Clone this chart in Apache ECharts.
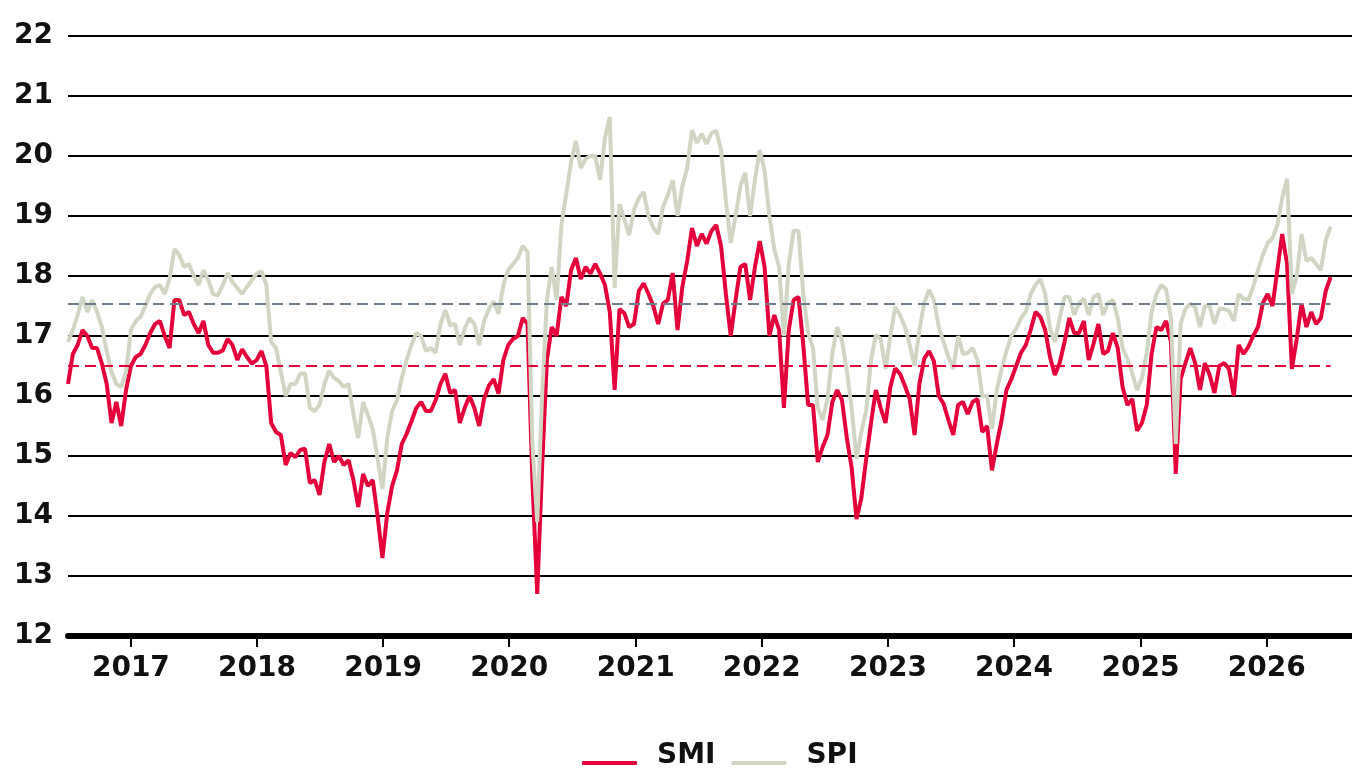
<!DOCTYPE html>
<html>
<head>
<meta charset="utf-8">
<title>SMI / SPI</title>
<script src="https://cdn.jsdelivr.net/npm/echarts@6/dist/echarts.min.js"></script>
<style>
  html, body { margin: 0; padding: 0; background: #fff; }
  #chart { width: 1352px; height: 768px; }
</style>
</head>
<body>
<div id="chart"></div>
<script>
// readings every 14 days, starting 2016-07-03
var startDate = "2016-07-03";
var stepDays = 14;

var smiValues = [
  16.2, 16.7, 16.85, 17.1, 17.0, 16.8, 16.8, 16.54, 16.2, 15.55,
  15.9, 15.5, 16.1, 16.5, 16.65, 16.7, 16.85, 17.05, 17.2, 17.25,
  17.0, 16.8, 17.6, 17.6, 17.35, 17.4, 17.2, 17.05, 17.25, 16.85,
  16.72, 16.72, 16.76, 16.95, 16.85, 16.6, 16.78, 16.65, 16.54, 16.6,
  16.75, 16.5, 15.55, 15.4,
  15.35, 14.85, 15.05, 14.98, 15.1, 15.12, 14.55, 14.6, 14.35, 14.9,
  15.2, 14.9, 15.0, 14.85, 14.93, 14.6, 14.15, 14.7, 14.5, 14.6,
  14.0, 13.3, 14.05, 14.5, 14.76, 15.2, 15.37, 15.58, 15.8, 15.9,
  15.75, 15.75, 15.93, 16.2, 16.37, 16.05, 16.1, 15.55, 15.8, 16.0,
  15.8, 15.5, 15.95, 16.17, 16.28, 16.04, 16.6, 16.85, 16.95, 17.0,
  17.3, 17.2, 14.6, 12.7, 14.8, 16.6, 17.15, 17.0, 17.65, 17.5,
  18.1, 18.3, 17.95, 18.15, 18.04, 18.2, 18.04, 17.85, 17.4, 16.1,
  17.45, 17.38, 17.15, 17.2, 17.75, 17.88, 17.7, 17.5, 17.2, 17.54,
  17.6, 18.05, 17.1, 17.82, 18.25, 18.8, 18.5, 18.7, 18.54, 18.75,
  18.85, 18.5, 17.7, 17.0, 17.6, 18.15,
  18.2, 17.6, 18.15, 18.58, 18.15, 17.0, 17.35, 17.1, 15.8, 17.1,
  17.6, 17.65, 16.85, 15.85, 15.85, 14.9, 15.15, 15.35, 15.9, 16.1,
  15.93, 15.3, 14.8, 13.95, 14.3, 14.95, 15.55, 16.1, 15.8, 15.55,
  16.15, 16.46, 16.37, 16.17, 15.95, 15.35, 16.2, 16.62, 16.75, 16.58,
  16.0,
  15.87, 15.6, 15.35, 15.85, 15.9, 15.7, 15.9, 15.95, 15.4, 15.5,
  14.76, 15.2, 15.6, 16.1, 16.28, 16.5, 16.72, 16.85, 17.1, 17.4,
  17.32, 17.1, 16.65, 16.35, 16.55, 16.9, 17.3, 17.05, 17.05, 17.25,
  16.6, 16.87, 17.2, 16.7, 16.75, 17.05, 16.8, 16.15, 15.85, 15.95,
  15.42,
  15.55, 15.85, 16.7, 17.15, 17.1, 17.25, 16.9, 14.7, 16.28, 16.55,
  16.8, 16.55, 16.1, 16.55, 16.35, 16.05, 16.5, 16.55, 16.45, 16.0,
  16.85, 16.7, 16.82, 17.0, 17.15, 17.55, 17.7, 17.5, 18.1, 18.7,
  18.2, 16.45, 16.95, 17.54, 17.15, 17.4, 17.2, 17.3, 17.75, 17.98
];

var spiValues = [
  16.9, 17.1, 17.35, 17.65, 17.4, 17.6, 17.4, 17.15, 16.75, 16.4,
  16.2, 16.15, 16.4, 17.1, 17.25, 17.32, 17.5, 17.7, 17.82, 17.85,
  17.7, 17.95, 18.45, 18.35, 18.15, 18.2, 18.0, 17.85, 18.1, 17.93,
  17.7, 17.68, 17.85, 18.05, 17.9, 17.8, 17.7, 17.82, 17.93, 18.04,
  18.08, 17.85, 16.9, 16.8,
  16.4, 16.0, 16.2, 16.2, 16.37, 16.38, 15.8, 15.75, 15.85, 16.2,
  16.42, 16.3, 16.25, 16.15, 16.2, 15.7, 15.3, 15.9, 15.68, 15.45,
  14.95, 14.45, 15.3, 15.75, 15.93, 16.3, 16.6, 16.85, 17.05, 17.0,
  16.75, 16.8, 16.72, 17.2, 17.43, 17.18, 17.2, 16.85, 17.12, 17.3,
  17.2, 16.85, 17.25, 17.45, 17.58, 17.37, 17.85, 18.1, 18.2, 18.3,
  18.5, 18.4, 15.2, 13.9, 16.0, 17.6, 18.15, 17.6, 18.85, 19.37,
  19.9, 20.25, 19.8, 19.95, 20.0, 20.0, 19.6, 20.3, 20.65, 17.8,
  19.2, 18.95, 18.68, 19.1, 19.3, 19.4, 19.0, 18.8, 18.7, 19.15,
  19.35, 19.6, 19.0, 19.5, 19.8, 20.43, 20.22, 20.37, 20.2, 20.38,
  20.42, 20.1, 19.25, 18.55, 19.0, 19.5,
  19.72, 19.0, 19.6, 20.1, 19.75, 19.0, 18.45, 18.15, 17.0, 18.2,
  18.76, 18.75, 17.7, 17.05, 16.8, 15.8, 15.6, 15.95, 16.7, 17.15,
  16.93, 16.42, 15.8, 14.95, 15.4, 15.75, 16.6, 17.02, 16.95, 16.45,
  17.0, 17.48, 17.35, 17.15, 16.85, 16.5, 17.1, 17.55, 17.77, 17.6,
  17.15,
  16.9, 16.65, 16.45, 17.0, 16.7, 16.72, 16.8, 16.6, 16.0, 16.0,
  15.45, 16.1, 16.45, 16.75, 17.0, 17.12, 17.3, 17.4, 17.7, 17.85,
  17.95, 17.7, 17.12, 16.9, 17.3, 17.65, 17.65, 17.35, 17.55, 17.62,
  17.35, 17.65, 17.7, 17.35, 17.55, 17.6, 17.3, 16.8, 16.62, 16.38,
  16.1,
  16.3, 16.72, 17.4, 17.7, 17.85, 17.78, 17.3, 15.2, 17.2, 17.45,
  17.54, 17.48, 17.15, 17.5, 17.5, 17.2, 17.45, 17.45, 17.42, 17.25,
  17.7, 17.62, 17.6, 17.82, 18.1, 18.35, 18.55, 18.63, 18.85, 19.3,
  19.62, 17.7, 18.0, 18.7, 18.25, 18.3, 18.2, 18.1, 18.6, 18.82
];

// long-run averages (dashed lines)
var smiAverage = 16.5;
var spiAverage = 17.54;

var xMin = "2016-07-03";
var xMax = "2026-09-05";

var smiColor = "#e4003b";
var spiColor = "#d1d6c4";
var font = "DejaVu Sans";

var dayMs = 24 * 3600 * 1000;
var t0 = new Date(startDate + "T00:00:00").getTime();
var dates = [];
for (var i = 0; i < smiValues.length; i++) {
  dates.push(t0 + i * stepDays * dayMs);
}
var lastDate = dates[dates.length - 1];

var smiData = [];
var spiData = [];
for (var i = 0; i < dates.length; i++) {
  smiData.push([dates[i], smiValues[i]]);
  spiData.push([dates[i], spiValues[i]]);
}

var chart = echarts.init(document.getElementById("chart"));

var option = {
  animation: false,
  backgroundColor: "#fff",
  grid: { left: 68, right: 0, top: 36, bottom: 132, containLabel: false },
  legend: {
    top: 742,
    left: 582,
    padding: 0,
    itemWidth: 55,
    itemHeight: 4,
    itemGap: 16,
    icon: "roundRect",
    formatter: "{n|{name}}",
    textStyle: {
      rich: {
        n: {
          color: "#111",
          fontSize: 28,
          fontWeight: "bold",
          fontFamily: font,
          padding: [0, 0, 14, 15]
        }
      }
    },
    data: ["SMI", "SPI"]
  },
  xAxis: {
    type: "time",
    min: xMin,
    max: xMax,
    splitNumber: 10,
    minInterval: 365 * dayMs,
    maxInterval: 366 * dayMs,
    axisLine: { lineStyle: { color: "#000", width: 6, cap: "round" } },
    axisTick: { show: true, length: 11, lineStyle: { color: "#000", width: 2 } },
    axisLabel: {
      color: "#111",
      fontSize: 28,
      fontWeight: "bold",
      fontFamily: font,
      margin: 19,
      showMinLabel: false,
      showMaxLabel: false,
      formatter: "{yyyy}"
    },
    splitLine: { show: false }
  },
  yAxis: {
    type: "value",
    min: 12,
    max: 22,
    interval: 1,
    axisLine: { show: false },
    axisTick: { show: false },
    axisLabel: {
      color: "#111",
      fontSize: 28,
      fontWeight: "bold",
      fontFamily: font,
      margin: 15
    },
    splitLine: { lineStyle: { color: "#000", width: 2 } }
  },
  series: [
    {
      name: "SMI",
      type: "line",
      data: smiData,
      showSymbol: false,
      color: smiColor,
      lineStyle: { width: 4, color: smiColor },
      markLine: {
        silent: true,
        symbol: "none",
        label: { show: false },
        lineStyle: { color: smiColor, width: 2, type: [11, 6] },
        data: [[{ coord: [dates[0], smiAverage] }, { coord: [lastDate, smiAverage] }]]
      }
    },
    {
      name: "SPI",
      type: "line",
      data: spiData,
      showSymbol: false,
      color: spiColor,
      lineStyle: { width: 4, color: spiColor },
      markLine: {
        silent: true,
        symbol: "none",
        label: { show: false },
        lineStyle: { color: "#6f7d8c", width: 2, type: [11, 6] },
        data: [[{ coord: [dates[0], spiAverage] }, { coord: [lastDate, spiAverage] }]]
      }
    }
  ]
};

chart.setOption(option);
</script>
</body>
</html>
